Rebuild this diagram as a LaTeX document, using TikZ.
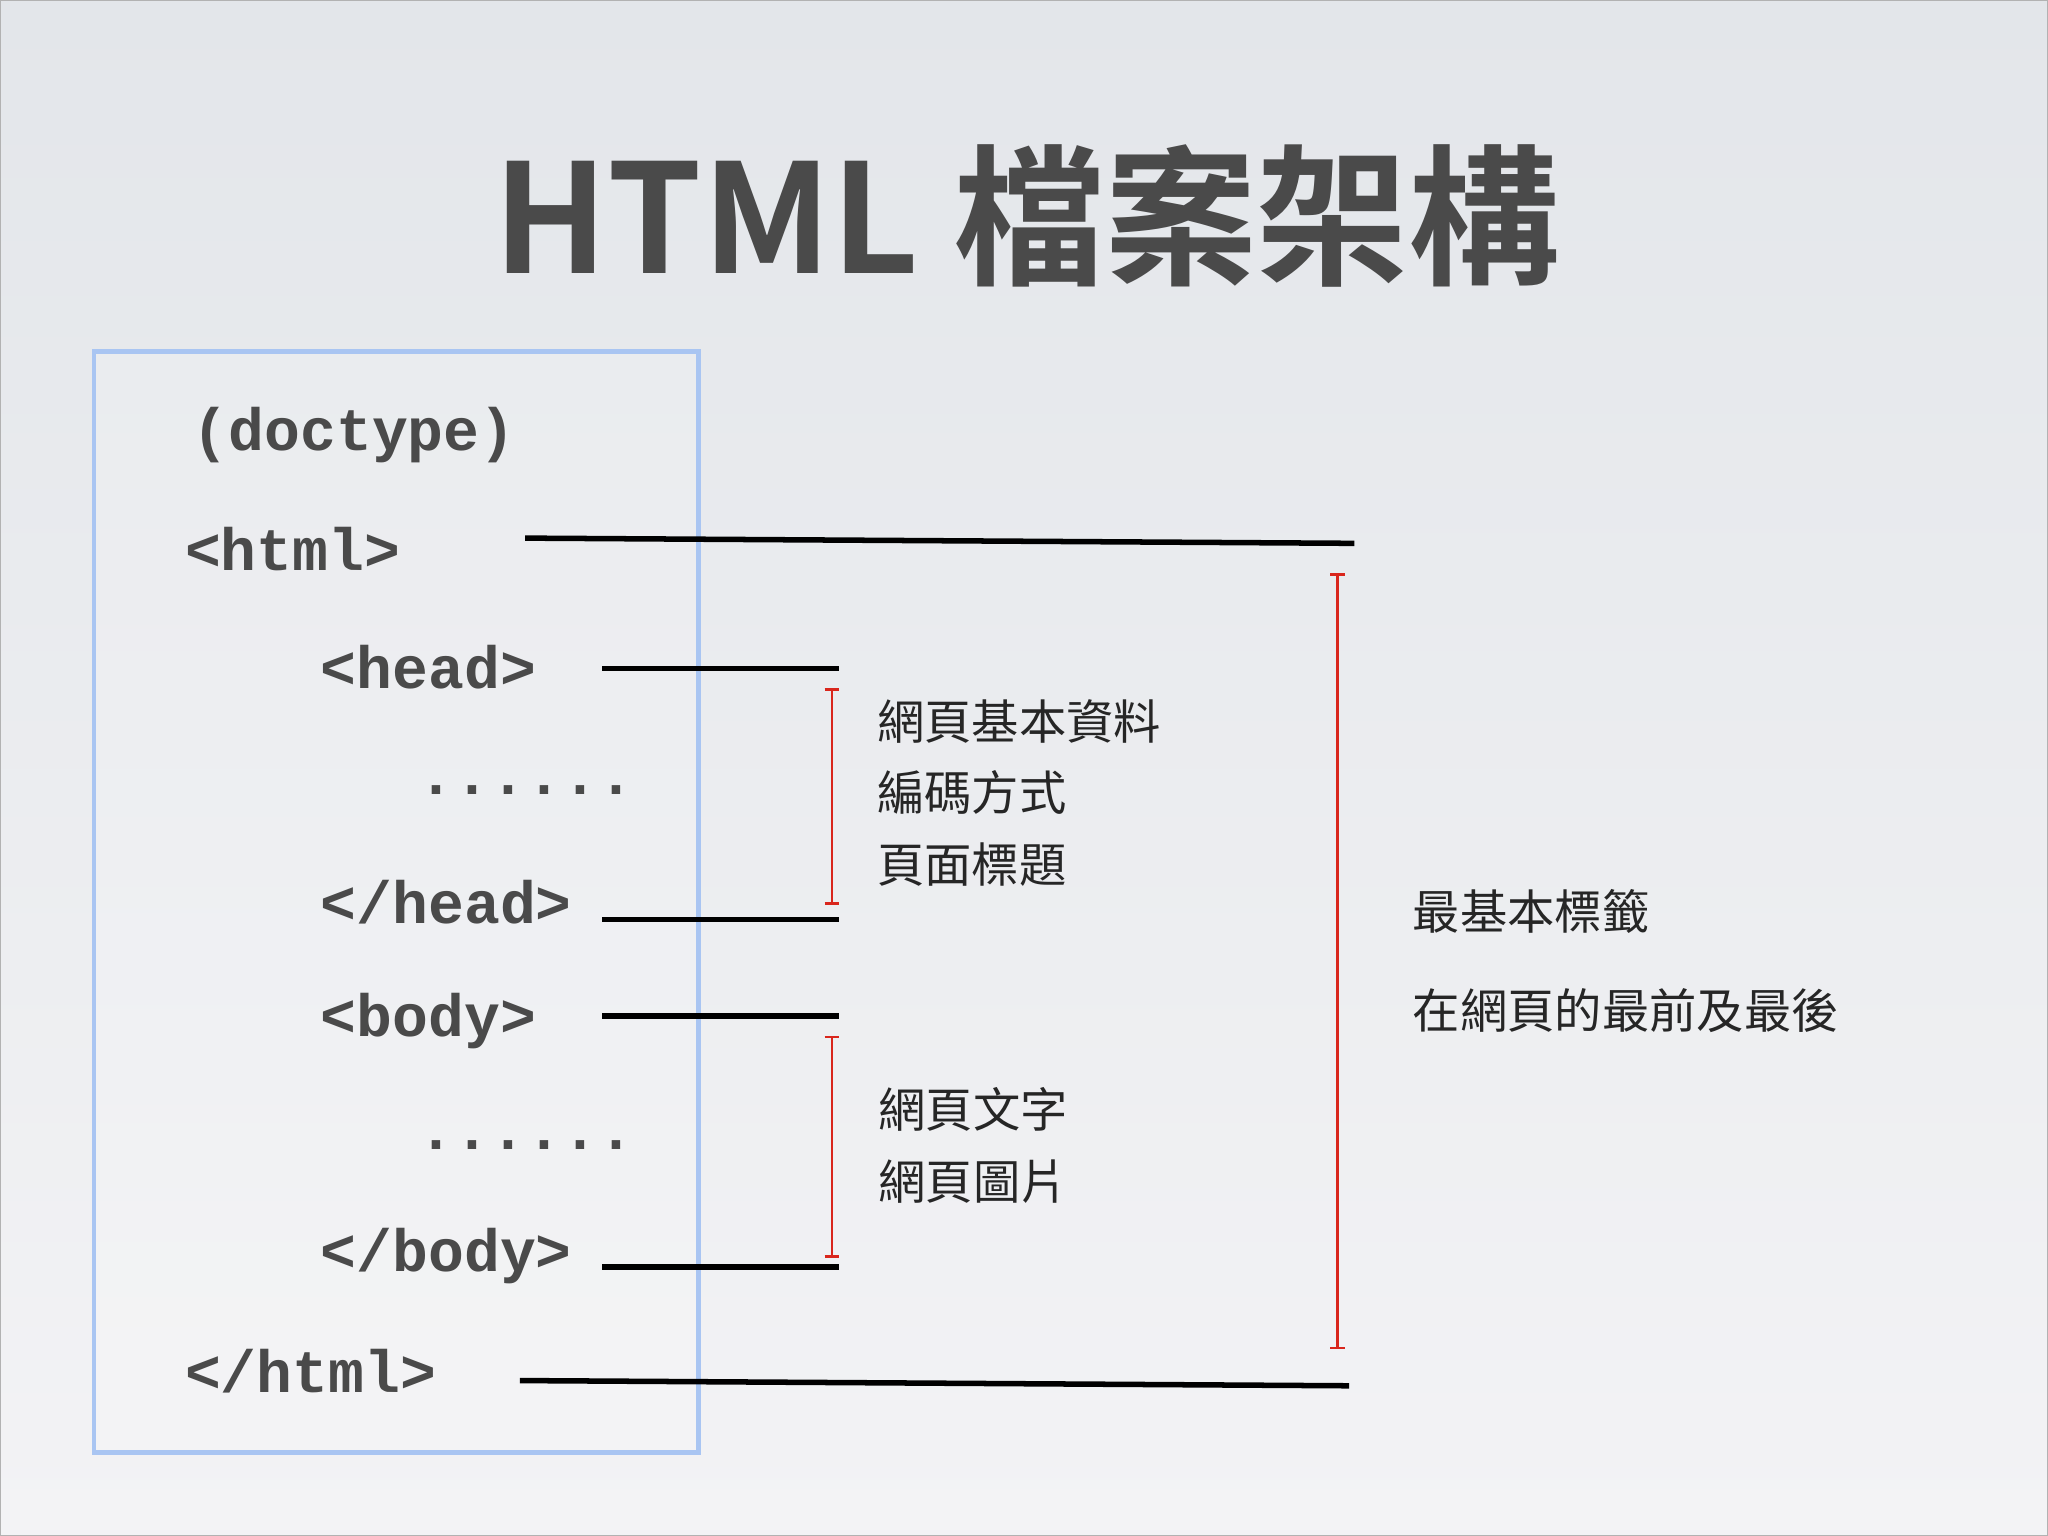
\documentclass[tikz,border=0pt]{standalone}
\usepackage{fontspec}
\newfontfamily\cjk{Noto Sans CJK TC}
\newfontfamily\cjkb{Noto Sans CJK TC Bold}
\newfontfamily\codef{Liberation Mono}
\definecolor{txt}{HTML}{4A4A4A}
\definecolor{bgA}{HTML}{E3E6EA}
\definecolor{bgB}{HTML}{F3F3F5}
\definecolor{boxc}{HTML}{A9C5F2}
\definecolor{brk}{HTML}{D9261C}
\tikzset{
 code/.style={anchor=west,inner sep=0,text=txt,font=\codef\bfseries\fontsize{13}{15}\selectfont},
 note/.style={anchor=west,inner sep=0,text=black!85,font=\cjk\fontsize{10.3}{12}\selectfont},
 bar/.style={line width=1.2pt,black},
 brkt/.style={brk,line width=0.6pt}
}
\begin{document}
\begin{tikzpicture}[x=0.01cm,y=-0.01cm]
\shade[top color=bgA,bottom color=bgB] (0,0) rectangle (1568,1176);
\useasboundingbox (0,0) rectangle (1568,1176);
\draw[gray!60,line width=0.4pt] (0,0) rectangle (1568,1176);
\node[text=txt,font=\cjkb\fontsize{33}{38}\selectfont,inner sep=0] (title) at (786,165) {HTML 檔案架構};
\draw[boxc,line width=1pt,fill=white,fill opacity=0.15] (72,269) rectangle (535,1112);
\node[code] (dt) at (147,333) {(doctype)};
\node[code] (h1) at (141,420) {<html>};
\node[code] (hd1) at (245,511) {<head>};
\node[code] (d1) at (320,605) {......};
\node[code] (hd2) at (245,691) {</head>};
\node[code] (b1) at (245,782) {<body>};
\node[code] (d2) at (320,877) {......};
\node[code] (b2) at (245,962) {</body>};
\node[code] (h2) at (141,1050) {</html>};
\coordinate (l1a) at (402,412); \coordinate (l1b) at (1037,416);
\coordinate (l2a) at (461,512); \coordinate (l2b) at (642,512);
\coordinate (l3a) at (461,704); \coordinate (l3b) at (642,704);
\coordinate (l4a) at (461,778); \coordinate (l4b) at (642,778);
\coordinate (l5a) at (461,970); \coordinate (l5b) at (642,970);
\coordinate (l6a) at (398,1057); \coordinate (l6b) at (1033,1061);
\draw[bar] (l1a)--(l1b); \draw[bar] (l2a)--(l2b); \draw[bar] (l3a)--(l3b);
\draw[bar] (l4a)--(l4b); \draw[bar] (l5a)--(l5b); \draw[bar] (l6a)--(l6b);
\coordinate (r1a) at (637,528); \coordinate (r1b) at (637,692);
\coordinate (r2a) at (637,794); \coordinate (r2b) at (637,962);
\coordinate (r3a) at (1024,440); \coordinate (r3b) at (1024,1032);
\foreach \a/\b in {r1a/r1b,r2a/r2b,r3a/r3b}{
 \draw[brkt] (\a)--(\b);
 \draw[brkt] ([xshift=-1.6pt]\a)--([xshift=1.6pt]\a);
 \draw[brkt] ([xshift=-1.6pt]\b)--([xshift=1.6pt]\b);
}
\node[note] (n1) at (671,552) {網頁基本資料};
\node[note] (n2) at (671,607) {編碼方式};
\node[note] (n3) at (671,662) {頁面標題};
\node[note] (n4) at (672,849) {網頁文字};
\node[note] (n5) at (672,905) {網頁圖片};
\node[note] (n6) at (1081,698) {最基本標籤};
\node[note] (n7) at (1081,774) {在網頁的最前及最後};
\end{tikzpicture}
\end{document}
